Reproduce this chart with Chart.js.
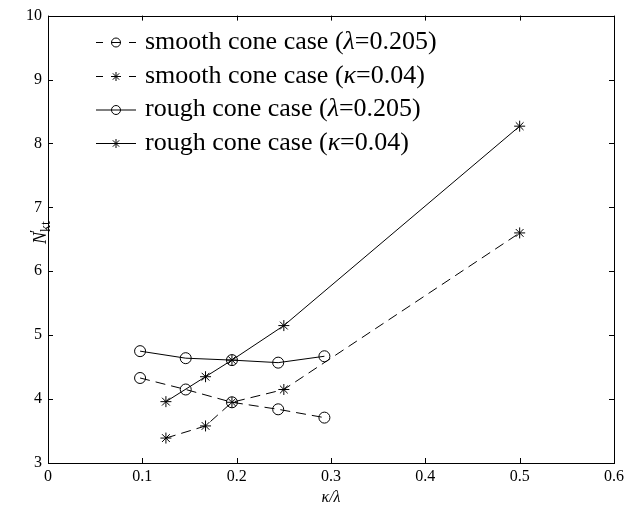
<!DOCTYPE html>
<html>
<head>
<meta charset="utf-8">
<script src="https://cdn.jsdelivr.net/npm/chart.js@4/dist/chart.umd.min.js"></script>
<style>
html,body{margin:0;padding:0;background:#fff;}
#wrap{width:628px;height:507px;position:relative;}
</style>
</head>
<body>
<div id="wrap"><canvas id="c" width="628" height="507"></canvas></div>
<script>
// Data
const circleX = [0.0976, 0.146, 0.195, 0.244, 0.293];
const starX = [0.125, 0.167, 0.195, 0.25, 0.5];
const smoothLambda = [4.33, 4.15, 3.95, 3.84, 3.71];
const smoothKappa = [3.39, 3.58, 3.95, 4.15, 6.60];
const roughLambda = [4.75, 4.64, 4.61, 4.57, 4.67];
const roughKappa = [3.96, 4.35, 4.61, 5.15, 8.27];
const seriesLabels = [
  ['smooth cone case (', 'λ', '=0.205)'],
  ['smooth cone case (', 'κ', '=0.04)'],
  ['rough cone case (', 'λ', '=0.205)'],
  ['rough cone case (', 'κ', '=0.04)']
];
const xTicks = [0, 0.1, 0.2, 0.3, 0.4, 0.5, 0.6];
const yTicks = [3, 4, 5, 6, 7, 8, 9, 10];

const SERIF = '"Liberation Serif","Times New Roman",serif';
const pts = (xs, ys) => xs.map((x, i) => ({x: x, y: ys[i]}));

function ds(label, xs, ys, dashed, style) {
  return {
    label: label,
    data: pts(xs, ys),
    borderColor: '#000',
    borderWidth: 1,
    borderDash: dashed ? [10, 6] : [],
    pointStyle: style,
    pointRadius: 5.5,
    pointBorderColor: '#000',
    pointBackgroundColor: 'rgba(0,0,0,0)',
    pointBorderWidth: 1,
    tension: 0,
    fill: false
  };
}

const frame = {
  id: 'frame',
  afterDraw(chart) {
    const ctx = chart.ctx, a = chart.chartArea;
    const xs = chart.scales.x, ys = chart.scales.y;
    ctx.save();
    ctx.strokeStyle = '#000';
    ctx.lineWidth = 1;
    ctx.setLineDash([]);
    ctx.strokeRect(Math.round(a.left) + 0.5, Math.round(a.top) + 0.5, Math.round(a.right - a.left), Math.round(a.bottom - a.top));
    ctx.beginPath();
    xTicks.forEach(v => {
      const px = Math.round(xs.getPixelForValue(v)) + 0.5;
      ctx.moveTo(px, a.bottom); ctx.lineTo(px, a.bottom - 5);
      ctx.moveTo(px, a.top); ctx.lineTo(px, a.top + 5);
    });
    yTicks.forEach(v => {
      const py = Math.round(ys.getPixelForValue(v)) + 0.5;
      ctx.moveTo(a.left, py); ctx.lineTo(a.left + 5, py);
      ctx.moveTo(a.right, py); ctx.lineTo(a.right - 5, py);
    });
    ctx.stroke();

    // Y axis title: N'kt
    ctx.save();
    ctx.translate(40, 231);
    ctx.rotate(-Math.PI / 2);
    ctx.fillStyle = '#000';
    ctx.textBaseline = 'alphabetic';
    ctx.textAlign = 'left';
    ctx.font = 'italic 18px ' + SERIF;
    const wN = ctx.measureText('N').width;
    ctx.fillText('N', -13, 6);
    ctx.font = '15px ' + SERIF;
    ctx.fillText('′', -13 + wN - 1, 0);
    ctx.font = '14px ' + SERIF;
    ctx.fillText('kt', -13 + wN, 10);
    ctx.restore();

    // Legend
    const rows = [42, 76, 109.5, 143];
    const dsets = chart.data.datasets;
    dsets.forEach((d, i) => {
      const y = rows[i] + 0.5;
      ctx.save();
      ctx.strokeStyle = '#000';
      ctx.fillStyle = 'rgba(0,0,0,0)';
      ctx.lineWidth = 1;
      ctx.setLineDash([]);
      ctx.beginPath();
      if (d.borderDash.length) {
        ctx.moveTo(96, y); ctx.lineTo(103, y);
        ctx.moveTo(111, y); ctx.lineTo(121, y);
        ctx.moveTo(129, y); ctx.lineTo(136, y);
      } else {
        ctx.moveTo(96, y); ctx.lineTo(136, y);
      }
      ctx.stroke();
      Chart.helpers.drawPoint(ctx, {pointStyle: d.pointStyle, radius: 4.5, rotation: 0, borderWidth: 1}, 116, y);
      ctx.restore();
      ctx.fillStyle = '#000';
      ctx.textBaseline = 'middle';
      ctx.textAlign = 'left';
      let x = 145;
      const parts = seriesLabels[i];
      ctx.font = '26px ' + SERIF;
      ctx.fillText(parts[0], x, rows[i]);
      x += ctx.measureText(parts[0]).width;
      ctx.font = 'italic 26px ' + SERIF;
      ctx.fillText(parts[1], x, rows[i]);
      x += ctx.measureText(parts[1]).width;
      ctx.font = '26px ' + SERIF;
      ctx.fillText(parts[2], x, rows[i]);
    });
    ctx.restore();
  }
};

new Chart(document.getElementById('c'), {
  type: 'line',
  data: {
    datasets: [
      ds('smooth cone case (λ=0.205)', circleX, smoothLambda, true, 'circle'),
      ds('smooth cone case (κ=0.04)', starX, smoothKappa, true, 'star'),
      ds('rough cone case (λ=0.205)', circleX, roughLambda, false, 'circle'),
      ds('rough cone case (κ=0.04)', starX, roughKappa, false, 'star')
    ]
  },
  options: {
    responsive: false,
    animation: false,
    layout: {padding: {top: 15, right: 14, left: 0, bottom: 0}},
    plugins: {legend: {display: false}, tooltip: {enabled: false}},
    scales: {
      x: {
        type: 'linear', min: 0, max: 0.6,
        afterBuildTicks: s => { s.ticks = xTicks.map(v => ({value: v})); },
        afterFit: s => { s.height = 44; },
        grid: {display: false, drawTicks: false},
        border: {display: false},
        ticks: {color: '#000', font: {family: SERIF, size: 16}, padding: 4,
          callback: v => String(v)},
        title: {display: true, text: 'κ/λ', color: '#000', font: {family: SERIF, size: 16, style: 'italic'}, padding: {top: 2, bottom: 0}}
      },
      y: {
        type: 'linear', min: 3, max: 10,
        afterBuildTicks: s => { s.ticks = yTicks.map(v => ({value: v})); },
        afterFit: s => { s.width = 48; },
        grid: {display: false, drawTicks: false},
        border: {display: false},
        ticks: {color: '#000', font: {family: SERIF, size: 16}, padding: 6,
          callback: v => String(v)},
        title: {display: false}
      }
    }
  },
  plugins: [frame]
});
</script>
</body>
</html>
